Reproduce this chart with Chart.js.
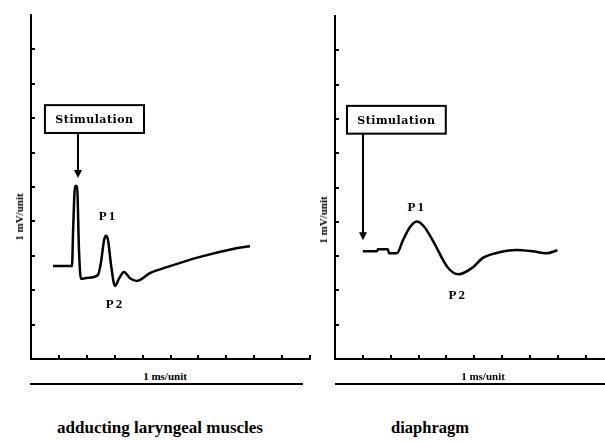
<!DOCTYPE html>
<html>
<head>
<meta charset="utf-8">
<script src="https://cdn.jsdelivr.net/npm/chart.js@4.4.0/dist/chart.umd.min.js"></script>
<style>
body{margin:0;background:#fff;}
#wrap{position:relative;width:605px;height:442px;overflow:hidden;font-family:"Liberation Serif",serif;font-weight:bold;color:#000;}
canvas{position:absolute;top:0;}
.t{position:absolute;white-space:nowrap;transform:translate(-50%,-50%);}
.v{transform:translate(-50%,-50%) rotate(-90deg);}
.rule{position:absolute;height:2px;background:#000;}
</style>
</head>
<body>
<div id="wrap">
<canvas id="left" width="312" height="362" style="left:0"></canvas>
<canvas id="right" width="305" height="362" style="left:300px"></canvas>

<div class="t v" style="left:19px;top:217px;font-size:11px">1 mV/unit</div>
<div class="t v" style="left:323px;top:220px;font-size:11px">1 mV/unit</div>

<div class="t" style="left:165px;top:376px;font-size:11px">1 ms/unit</div>
<div class="t" style="left:483px;top:376px;font-size:11px">1 ms/unit</div>
<div class="rule" style="left:30px;top:383px;width:273px"></div>
<div class="rule" style="left:335px;top:383px;width:270px"></div>

<div class="t" style="left:160px;top:428px;font-size:17px">adducting laryngeal muscles</div>
<div class="t" style="left:430px;top:428px;font-size:16.5px">diaphragm</div>
</div>

<script>
// ===== data (axis units: 1 ms / 1 mV per tick) =====
const leftXTicks = [1,2,3,4,5,6,7,8,9,10];
const rightXTicks = [1,2,3,4,5,6,7,8,9];
const yTicks = [1,2,3,4,5,6,7,8,9];

const laryngealX = [0.79,1.47,1.51,1.58,1.65,1.72,1.79,2.04,2.40,2.51,2.62,2.69,2.76,2.87,3.01,3.15,3.33,3.55,3.80,4.27,4.87,6.06,7.24,7.85];
const laryngealY = [2.70,2.70,3.75,5.03,5.03,3.17,2.33,2.36,2.44,2.82,3.46,3.58,3.46,2.73,2.12,2.33,2.53,2.35,2.27,2.50,2.67,2.97,3.20,3.28];

const diaphragmX = [1.00,1.51,1.54,1.90,1.94,2.22,2.44,2.69,2.94,3.19,3.51,4.05,4.44,4.95,5.30,5.91,6.52,7.10,7.60,7.99];
const diaphragmY = [3.14,3.14,3.20,3.20,3.08,3.08,3.46,3.84,4.01,3.87,3.46,2.67,2.47,2.67,2.94,3.11,3.18,3.14,3.08,3.17];


// ===== tick marks, stimulation box, arrow, peak labels =====
const marksPlugin = {
  id:'marks',
  afterDraw(chart, args, opts){
    const {ctx, chartArea:a, scales:{x, y}} = chart;
    ctx.save();
    ctx.strokeStyle = '#000';
    ctx.fillStyle = '#000';
    ctx.lineWidth = 2;

    // ticks point into the plot
    x.ticks.forEach(t=>{
      const px = Math.round(x.getPixelForValue(t.value));
      ctx.beginPath(); ctx.moveTo(px, a.bottom); ctx.lineTo(px, a.bottom-4); ctx.stroke();
    });
    y.ticks.forEach(t=>{
      const py = Math.round(y.getPixelForValue(t.value));
      ctx.beginPath(); ctx.moveTo(a.left, py); ctx.lineTo(a.left+4, py); ctx.stroke();
    });

    // stimulation box
    const b = opts.box;
    const bx0 = x.getPixelForValue(b[0]), bx1 = x.getPixelForValue(b[1]);
    const byT = y.getPixelForValue(b[2]), byB = y.getPixelForValue(b[3]);
    ctx.strokeRect(bx0, byT, bx1-bx0, byB-byT);
    ctx.font = 'bold 11px "DejaVu Serif"';
    ctx.letterSpacing = '0.5px';
    ctx.textAlign = 'center';
    ctx.textBaseline = 'middle';
    ctx.fillText(opts.boxText, (bx0+bx1)/2, (byT+byB)/2+1);

    // arrow down to stimulus
    const ax = Math.round(x.getPixelForValue(opts.arrow[0]));
    const tip = y.getPixelForValue(opts.arrow[1]);
    ctx.beginPath(); ctx.moveTo(ax, byB); ctx.lineTo(ax, tip-6); ctx.stroke();
    ctx.beginPath(); ctx.moveTo(ax-4, tip-8); ctx.lineTo(ax+4, tip-8); ctx.lineTo(ax, tip); ctx.closePath(); ctx.fill();

    // P1 / P2
    ctx.font = 'bold 13px "Liberation Serif"';
    ctx.letterSpacing = '2px';
    opts.labels.forEach(([txt, lx, ly])=>{
      ctx.fillText(txt, x.getPixelForValue(lx), y.getPixelForValue(ly));
    });
    ctx.restore();
  }
};


function makeChart(id, xs, ys, xMax, xTicks, pad, marks){
  return new Chart(document.getElementById(id),{
    type:'line',
    data:{
      datasets:[{
        data: xs.map((v,i)=>({x:v, y:ys[i]})),
        borderColor:'#000',
        borderWidth:2.5,
        pointRadius:0,
        cubicInterpolationMode:'monotone',
        fill:false
      }]
    },
    options:{
      responsive:false,
      animation:false,
      devicePixelRatio:1,
      layout:{padding:pad},
      scales:{
        x:{
          type:'linear', min:0, max:xMax,
          afterBuildTicks:s=>{ s.ticks = xTicks.map(v=>({value:v})); },
          afterFit:s=>{ s.height = 0; },
          ticks:{display:false},
          grid:{display:true, drawOnChartArea:false, drawTicks:false},
          border:{display:true, color:'#000', width:2}
        },
        y:{
          type:'linear', min:0, max:10,
          afterBuildTicks:s=>{ s.ticks = yTicks.map(v=>({value:v})); },
          afterFit:s=>{ s.width = 0; },
          ticks:{display:false},
          grid:{display:true, drawOnChartArea:false, drawTicks:false},
          border:{display:true, color:'#000', width:2}
        }
      },
      plugins:{
        legend:{display:false},
        tooltip:{enabled:false},
        marks:marks
      }
    },
    plugins:[marksPlugin]
  });
}

makeChart('left', laryngealX, laryngealY, 10, leftXTicks,
  {left:31, top:15, right:2, bottom:3},
  {box:[0.50,4.05,7.38,6.57], boxText:'Stimulation', arrow:[1.68,5.26],
   labels:[['P1',2.76,4.13],['P2',3.01,1.57]]});

makeChart('right', diaphragmX, diaphragmY, 9.7, rightXTicks,
  {left:35, top:16, right:0, bottom:3},
  {box:[0.43,3.98,7.38,6.57], boxText:'Stimulation', arrow:[1.00,3.46],
   labels:[['P1',2.94,4.42],['P2',4.41,1.86]]});
</script>
</body>
</html>
